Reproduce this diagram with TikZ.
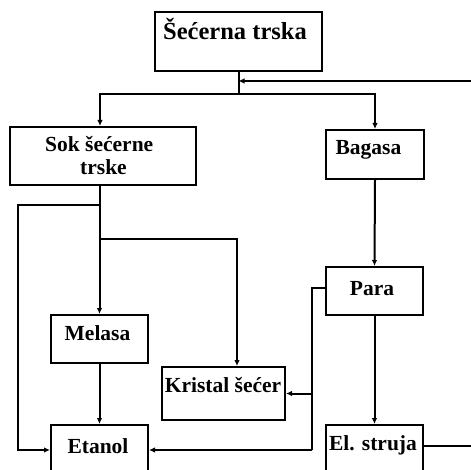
\documentclass[tikz,border=0pt]{standalone}
\usepackage{fontspec}
\setmainfont{Liberation Serif}
\usetikzlibrary{arrows.meta}
\begin{document}
\begin{tikzpicture}[x=1pt,y=-1pt,
  box/.style={draw=black,line width=2pt,inner sep=0pt,rectangle},
  lbl/.style={inner sep=0pt,font=\fontsize{21.5}{23}\selectfont\bfseries},
  ttl/.style={inner sep=0pt,font=\fontsize{24.5}{26}\selectfont\bfseries},
  flow/.style={line width=2pt,draw=black},
  arr/.style={flow,-{Latex[length=6pt,width=5.5pt]}}]
\useasboundingbox (0,0) rectangle (471,470);
\clip (0,0) rectangle (471,470);

% boxes
\node[box,minimum width=167pt,minimum height=59pt] (T) at (238.5,41.5) {};
\node[box,minimum width=186pt,minimum height=58pt] (S) at (103,156) {};
\node[box,minimum width=98pt,minimum height=49pt] (B) at (375,154.5) {};
\node[box,minimum width=97pt,minimum height=48pt] (P) at (374.5,291) {};
\node[box,minimum width=97pt,minimum height=48pt] (M) at (99.5,339) {};
\node[box,minimum width=123pt,minimum height=53pt] (K) at (223.5,393.5) {};
\node[box,minimum width=97pt,minimum height=50pt] (E) at (99.5,450) {};
\node[box,minimum width=97pt,minimum height=50pt] (L) at (374.5,450) {};

% labels
\node[ttl,anchor=base] (Tt) at (235,40) {Šećerna trska};
\node[lbl,anchor=base west,align=left] (St) at (45,175) {Sok šećerne\\\hspace*{35pt}trske};
\node[lbl,anchor=base] (Bt) at (368.5,155) {Bagasa};
\node[lbl,anchor=base] (Pt) at (372,295) {Para};
\node[lbl,anchor=base] (Mt) at (97.5,340) {Melasa};
\node[lbl,anchor=base] (Kt) at (223,392) {Kristal šećer};
\node[lbl,anchor=base] (Et) at (98,453) {Etanol};
\node[lbl,anchor=base] (Lt) at (373,450) {El. struja};

% junction points
\coordinate (split) at (238.5,94);
\coordinate (fbin) at (471,81);
\coordinate (s1) at (99.5,205);
\coordinate (lft) at (18,205);
\coordinate (kbr) at (99.5,239);
\coordinate (pv) at (312,288);
\coordinate (lout) at (471,446);

% top split
\draw[flow] (T.south) -- (split);
\draw[arr] (split) -| ([xshift=-3pt]S.north);
\draw[arr] (split) -| (B.north);
\draw[arr] (fbin) -- (T.south |- fbin);

% juice branch
\draw[arr] (S.south -| M.north) -- (M.north);
\draw[arr] (s1) -- (lft) |- (E.west);
\draw[arr] (kbr) -| ([xshift=13.5pt]K.north);
\draw[arr] (M.south) -- (E.north);

% bagasse branch
\draw[arr] (B.south) -- (P.north);
\draw[arr] (P.south) -- (L.north);
\draw[flow] ([yshift=3pt]P.west) -- (pv) -- (pv |- E.east);
\draw[arr] (pv |- K.east) -- (K.east);
\draw[arr] (pv |- E.east) -- (E.east);
\draw[flow] (L.east |- lout) -- (lout);
\end{tikzpicture}
\end{document}
